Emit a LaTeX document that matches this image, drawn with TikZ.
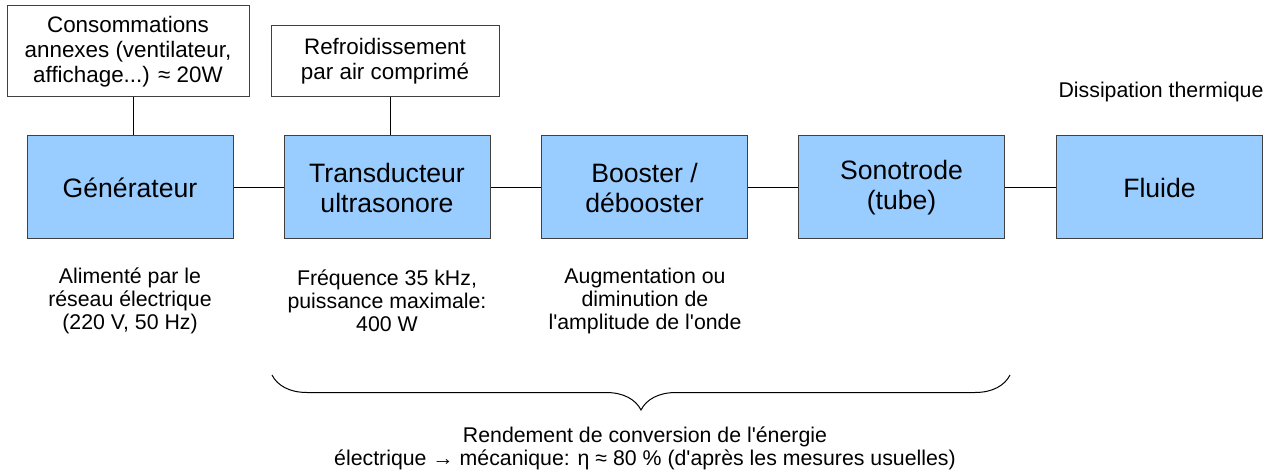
\documentclass[tikz,border=0pt]{standalone}
\usepackage{fontspec}
\setmainfont{Liberation Sans}
\usetikzlibrary{decorations.pathreplacing}
\definecolor{boxblue}{HTML}{99CCFF}
\tikzset{
    block/.style={draw=black!75,fill=boxblue,minimum width=103pt,minimum height=51.5pt,
        inner sep=0pt,align=center,font=\fontsize{13.3}{15}\selectfont},
    note/.style={draw=black!75,fill=white,inner sep=0pt,align=center,
        font=\fontsize{11.2}{12.5}\selectfont},
    caption/.style={align=center,font=\fontsize{10.65}{11.5}\selectfont}
}

\begin{document}
\begin{tikzpicture}[x=0.5pt,y=-0.5pt,line width=0.5pt]
            \useasboundingbox (0,0) rectangle (1276,476);
            % main chain
            \node[block] (gen) at (130,187.5) {Générateur};
            \node[block] (trans) at (387,187.5) {Transducteur\\ultrasonore};
            \node[block] (boost) at (644.5,187.5) {Booster /\\débooster};
            \node[block] (sono) at (901.5,187.5) {Sonotrode\\(tube)};
            \node[block] (fluid) at (1159.5,187.5) {Fluide};
            \draw (gen) -- (trans);
            \draw (trans) -- (boost);
            \draw (boost) -- (sono);
            \draw (sono) -- (fluid);
            % boxes on top
            \node[note,minimum width=121pt,minimum height=45.5pt] (conso) at (128,51.5) {Consommations\\annexes (ventilateur,\\affichage...) ≈ 20W};
            \node[note,minimum width=114pt,minimum height=35.5pt] (cool) at (385,61.5) {Refroidissement\\par air comprimé};
            \draw ([xshift=2.5pt]conso.south) -- ([xshift=1.5pt]gen.north);
            \draw ([xshift=2.5pt]cool.south) -- ([xshift=1.5pt]trans.north);
            \node[caption] (dissip) at (1161,92) {Dissipation thermique};
            % texts below
            \node[caption] (genTxt) at (130,301) {Alimenté par le\\réseau électrique\\(220 V, 50 Hz)};
            \node[caption] (transTxt) at (387,301) {Fréquence 35 kHz,\\puissance maximale:\\400 W};
            \node[caption] (boostTxt) at (645,301) {Augmentation ou\\diminution de\\l\textquotesingle amplitude de l\textquotesingle onde};
            % brace
            \coordinate (braceL) at (272,375);
            \coordinate (braceR) at (1010,375);
            \draw[decorate,decoration={brace,mirror,amplitude=17.5pt}] (braceL) -- (braceR);
            \node[caption] (yield) at (645,448.5) {Rendement de conversion de l\textquotesingle énergie\\électrique → mécanique: η ≈ 80 \% (d\textquotesingle après les mesures usuelles)};
        \end{tikzpicture}
\end{document}
